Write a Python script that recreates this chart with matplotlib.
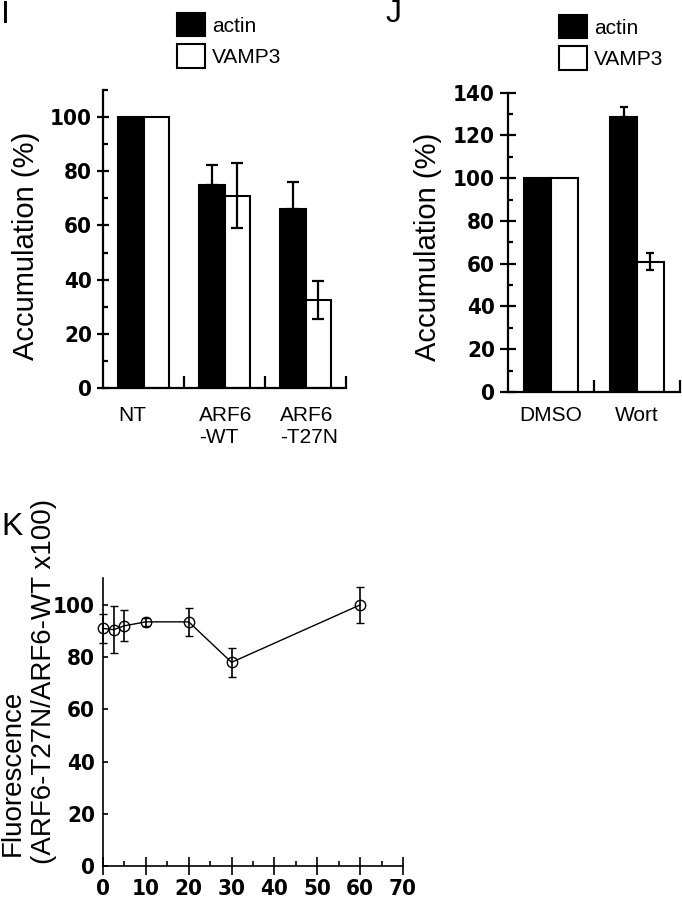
import matplotlib
matplotlib.use("Agg")
import matplotlib.pyplot as plt
import numpy as np
from matplotlib import font_manager as fm
from matplotlib.ticker import MultipleLocator, FixedLocator

plt.rcParams["font.family"] = ["Liberation Sans", "DejaVu Sans"]

# panel I
groups_i = ["NT", "ARF6\n-WT", "ARF6\n-T27N"]
actin_i = [100, 75, 66]
actin_i_err = [0, 7.5, 10]
vamp3_i = [100, 71, 32.5]
vamp3_i_err = [0, 12, 7]

# panel J
groups_j = ["DMSO", "Wort"]
actin_j = [100, 128.5]
actin_j_err = [0, 5]
vamp3_j = [100, 61]
vamp3_j_err = [0, 4]

# panel K
time_k = [0, 2.5, 5, 10, 20, 30, 60]
fluor_k = [91, 90.5, 92, 93.5, 93.5, 78, 100]
fluor_k_err = [5.5, 9, 6, 1.5, 5.5, 5.5, 7]


def narrow_bold(size):
    # tick numbers in the figure use a condensed bold face
    rank = {"extra-condensed": 0, "ultra-condensed": 1, "condensed": 2,
            "semi-condensed": 3}
    best = None
    for f in fm.fontManager.ttflist:
        st = f.stretch if isinstance(f.stretch, str) else ""
        r = rank.get(st)
        if r is None and ("Narrow" in f.name or "Condensed" in f.name):
            r = 2
        if r is None or f.style != "normal":
            continue
        wt = f.weight if isinstance(f.weight, int) else (
            700 if "bold" in str(f.weight).lower() else 400)
        score = (abs(wt - 700), r)
        if best is None or score < best[0]:
            best = (score, f.fname)
    if best is None:
        return fm.FontProperties(family="Liberation Sans", weight="bold",
                                 size=size - 3)
    return fm.FontProperties(fname=best[1], size=size)


NUM_FP = narrow_bold(16)

W, H = 682, 900
fig = plt.figure(figsize=(W / 100, H / 100), dpi=100)


def px(x0, y0, x1, y1):
    # axes rect from pixel box (left, top, right, bottom)
    return [x0 / W, 1 - y1 / H, (x1 - x0) / W, (y1 - y0) / H]


def bar_panel(ax, groups, actin, actin_err, vamp3, vamp3_err, ymax, capsize,
              centered, major_len, legend_xy):
    x = np.arange(len(groups))
    w = 0.31
    ax.bar(x - w / 2, actin, w, color="black", edgecolor="black",
           linewidth=1.5, label="actin", zorder=2)
    ax.bar(x + w / 2, vamp3, w, color="white", edgecolor="black",
           linewidth=1.5, label="VAMP3", zorder=2)

    ae = np.array(actin_err, float)
    m = ae > 0
    ax.errorbar((x - w / 2)[m], np.array(actin)[m],
                yerr=[np.zeros(m.sum()), ae[m]], fmt="none", ecolor="black",
                elinewidth=1.6, capsize=capsize, capthick=1.6, zorder=3)
    ve = np.array(vamp3_err, float)
    m = ve > 0
    ax.errorbar((x + w / 2)[m], np.array(vamp3)[m], yerr=ve[m], fmt="none",
                ecolor="black", elinewidth=1.6, capsize=capsize,
                capthick=1.6, zorder=3)

    ax.set_xlim(-0.5, len(groups) - 0.5)
    ax.set_ylim(0, ymax)
    for s in ["top", "right"]:
        ax.spines[s].set_visible(False)
    for s in ["left", "bottom"]:
        ax.spines[s].set_linewidth(1.6)

    ax.yaxis.set_major_locator(MultipleLocator(20))
    ax.yaxis.set_minor_locator(MultipleLocator(10))
    ax.tick_params(axis="y", which="major", direction="inout",
                   length=major_len, width=1.6, pad=3.4)
    ax.tick_params(axis="y", which="minor", direction="in", length=3.6,
                   width=1.6)
    for lab in ax.get_yticklabels():
        lab.set_fontproperties(NUM_FP)

    if centered:
        ax.set_xticks(x, groups, fontsize=15)
        ax.tick_params(axis="x", which="major", length=0, pad=10)
    else:
        ax.set_xticks(x - w, groups, fontsize=15, ha="left")
        ax.tick_params(axis="x", which="major", length=0, pad=13)
    ax.xaxis.set_minor_locator(FixedLocator(x + 0.5))
    ax.tick_params(axis="x", which="minor", direction="in", length=8.6,
                   width=1.6)

    ax.set_ylabel("Accumulation (%)", fontsize=21)
    ax.legend(loc="upper left", bbox_to_anchor=legend_xy,
              bbox_transform=fig.transFigure, frameon=False, fontsize=15,
              handlelength=1.35, handleheight=1.35, borderpad=0,
              borderaxespad=0, labelspacing=0.38, handletextpad=0.34)


ax_i = fig.add_axes(px(103, 90, 346, 388))
bar_panel(ax_i, groups_i, actin_i, actin_i_err, vamp3_i, vamp3_i_err, 110,
          4.3, False, 9, (177 / W, 1 - 13 / H))
ax_i.yaxis.set_label_coords(40 / W, 1 - 246 / H, transform=fig.transFigure)

ax_j = fig.add_axes(px(508, 92.7, 680, 392))
bar_panel(ax_j, groups_j, actin_j, actin_j_err, vamp3_j, vamp3_j_err, 140,
          2.8, True, 12, (559 / W, 1 - 15 / H))
ax_j.yaxis.set_label_coords(442 / W, 1 - 247 / H, transform=fig.transFigure)

# panel K
ax_k = fig.add_axes(px(103, 578, 403, 866))
ax_k.errorbar(time_k, fluor_k, yerr=fluor_k_err, fmt="-o", color="black",
              mfc="none", mec="black", ms=7.5, mew=1.0, lw=1.0,
              elinewidth=1.2, capsize=3, capthick=1.2, clip_on=False,
              zorder=3)
ax_k.set_xlim(0, 70)
ax_k.set_ylim(0, 110.3)
for s in ["top", "right"]:
    ax_k.spines[s].set_visible(False)
for s in ["left", "bottom"]:
    ax_k.spines[s].set_linewidth(1.2)
ax_k.xaxis.set_major_locator(MultipleLocator(10))
ax_k.xaxis.set_minor_locator(MultipleLocator(5))
ax_k.yaxis.set_major_locator(FixedLocator([0, 20, 40, 60, 80, 100]))
ax_k.tick_params(axis="x", which="major", direction="inout", length=13,
                 width=1.2, pad=3.0)
ax_k.tick_params(axis="x", which="minor", direction="in", length=3.6,
                 width=1.2)
ax_k.tick_params(axis="y", which="major", direction="in", length=3.6,
                 width=1.2, pad=5.8)
for lab in ax_k.get_xticklabels() + ax_k.get_yticklabels():
    lab.set_fontproperties(NUM_FP)

# two-line y label, both lines start at the bottom
fig.text(13 / W, 1 - 856 / H, "Fluorescence", rotation=90, ha="center",
         va="bottom", fontsize=20)
fig.text(44 / W, 1 - 864 / H, "(ARF6-T27N/ARF6-WT x100)", rotation=90,
         ha="center", va="bottom", fontsize=20)

# panel letters
fig.text(1 / W, 1 - 23 / H, "I", fontsize=23, va="baseline")
fig.text(386 / W, 1 - 22 / H, "J", fontsize=23, va="baseline")
fig.text(1 / W, 1 - 535 / H, "K", fontsize=23, va="baseline")

fig.savefig("out.png", dpi=100)
